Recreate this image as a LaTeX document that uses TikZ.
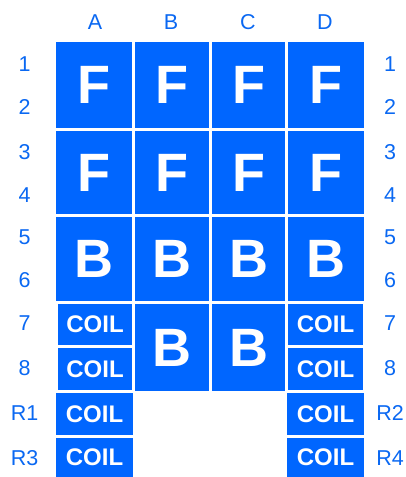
\documentclass[tikz,border=0pt]{standalone}
\usepackage{fontspec}
\setmainfont{Liberation Sans}
\definecolor{cellblue}{HTML}{0066FF}
\definecolor{labblue}{HTML}{0A68F2}
\newcommand\mkcell[6]{%
  \pgfmathsetmacro\cw{#4-#2}\pgfmathsetmacro\ch{#5-#3}%
  \pgfmathsetmacro\cx{(#2+#4)/2}\pgfmathsetmacro\cy{(#3+#5)/2}%
  \node[#6, minimum width=\cw pt, minimum height=\ch pt] (#1) at (\cx,\cy) {};}
\begin{document}
\begin{tikzpicture}[x=1pt,y=-1pt,
  big/.style={fill=cellblue, draw=none, inner sep=0pt, text=white,
    font=\fontsize{54}{54}\selectfont\bfseries},
  coil/.style={fill=cellblue, draw=none, inner sep=0pt, text=white,
    font=\fontsize{24}{24}\selectfont\bfseries},
  lab/.style={text=labblue, inner sep=0pt, font=\fontsize{21.5}{21.5}\selectfont}]
\useasboundingbox (0,0) rectangle (406,477);
% big cells
\mkcell{a12}{56}{42}{132}{128}{big}
\mkcell{b12}{135}{42}{209}{128}{big}
\mkcell{c12}{212}{42}{285}{128}{big}
\mkcell{d12}{288}{42}{364}{128}{big}
\mkcell{a34}{56}{131}{132}{214}{big}
\mkcell{b34}{135}{131}{209}{214}{big}
\mkcell{c34}{212}{131}{285}{214}{big}
\mkcell{d34}{288}{131}{364}{214}{big}
\mkcell{a56}{56}{217}{132}{301}{big}
\mkcell{b56}{135}{217}{209}{301}{big}
\mkcell{c56}{212}{217}{285}{301}{big}
\mkcell{d56}{288}{217}{364}{301}{big}
\mkcell{b78}{135}{304}{209}{391}{big}
\mkcell{c78}{212}{304}{285}{391}{big}
\foreach \n in {a12,b12,c12,d12,a34,b34,c34,d34}{\node[text=white,inner sep=0pt,font=\fontsize{54}{54}\selectfont\bfseries] at (\n.center) {F};}
\foreach \n in {a56,b56,c56,d56,b78,c78}{\node[text=white,inner sep=0pt,font=\fontsize{54}{54}\selectfont\bfseries] at (\n.center) {B};}
% coils
\mkcell{a7}{58}{304}{132}{345}{coil}
\mkcell{a8}{58}{348}{132}{389.5}{coil}
\mkcell{ar1}{56}{393}{133}{435}{coil}
\mkcell{ar3}{56}{438}{133}{477}{coil}
\mkcell{d7}{288}{304}{363}{345}{coil}
\mkcell{d8}{288}{348}{363}{389.5}{coil}
\mkcell{dr2}{287}{393}{364}{435}{coil}
\mkcell{dr4}{287}{438}{364}{477}{coil}
\foreach \n in {a7,a8,ar1,ar3,d7,d8,dr2,dr4}{\node[text=white,inner sep=0pt,font=\fontsize{24}{24}\selectfont\bfseries] at (\n.center) {COIL};}
% column labels
\node[lab] (lA) at (95,21.7) {A};
\node[lab] (lB) at (171,21.7) {B};
\node[lab] (lC) at (248,21.7) {C};
\node[lab] (lD) at (325,21.7) {D};
% row labels
\foreach \t/\y [count=\i] in {1/64.3,2/107.3,3/151.7,4/195,5/237.3,6/280,7/323.3,8/368.3,R1/413.3,R3/458.3}{\node[lab] (ll\i) at (24.5,\y) {\t};}
\foreach \t/\y [count=\i] in {1/64.3,2/107.3,3/151.7,4/195,5/237.3,6/280,7/323.3,8/368.3,R2/413.3,R4/458.3}{\node[lab] (rl\i) at (390,\y) {\t};}
\end{tikzpicture}
\end{document}
